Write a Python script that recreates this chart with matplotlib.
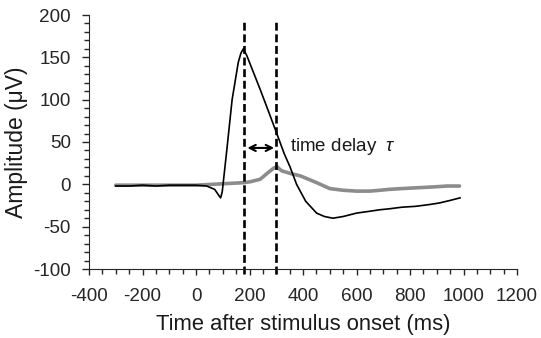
import matplotlib
matplotlib.use("Agg")
import matplotlib.pyplot as plt
from matplotlib.ticker import MultipleLocator

plt.rcParams['font.family'] = ['Liberation Sans', 'DejaVu Sans']
plt.rcParams['axes.unicode_minus'] = False
plt.rcParams['mathtext.fontset'] = 'custom'
plt.rcParams['mathtext.it'] = 'Liberation Sans:italic'
plt.rcParams['mathtext.rm'] = 'Liberation Sans'

# Black trace (fast response)
black_t = [-300, -250, -200, -150, -100, -50, 0, 40, 70, 85, 92, 98, 115, 135, 158, 168, 177,
           190, 210, 240, 270, 302, 330, 351, 376, 410, 451, 480, 512, 550, 600, 645, 688, 720,
           770, 820, 870, 910, 950, 987]
black_v = [-2, -2, -1, -2, -1, -1, -1, -2, -6, -13, -16, -9, 40, 100, 144, 155, 160,
           152, 136, 112, 87, 60, 36, 21, 0, -20, -34, -38, -40, -38, -34, -32, -30, -29,
           -27, -26, -24, -22, -19, -16]
# Gray trace (delayed response)
gray_t = [-300, -200, -100, 0, 60, 120, 180, 202, 240, 270, 290, 302, 320, 351, 390, 451,
          500, 550, 600, 650, 688, 720, 770, 830, 890, 940, 985]
gray_v = [-1, -1, -1, -1, 0, 1, 2, 3, 6, 14, 19, 21, 16, 13, 10, 2,
          -5, -7, -8, -8, -7, -6, -5, -4, -3, -2, -2]

delay_start = 180
delay_end = 300

fig = plt.figure(figsize=(5.41, 3.38), dpi=100)
ax = fig.add_axes([89/541, 1-269/338, (517-89)/541, (269-15)/338])

ax.plot(gray_t, gray_v, color='#8c8c8c', lw=2.6, solid_capstyle='round')
ax.plot(black_t, black_v, color='black', lw=1.2)

for xv in (delay_start, delay_end):
    ax.plot([xv, xv], [-106, 192], color='black', lw=1.9, ls=(0, (3.0, 1.4)), clip_on=False)

ax.annotate('', xy=(delay_start + 12, 43), xytext=(delay_end - 8, 43),
            arrowprops=dict(arrowstyle='<->', color='black', lw=1.5, mutation_scale=11,
                            shrinkA=0, shrinkB=0))
ax.text(351, 45, 'time delay  $\\it{\\tau}$', fontsize=13.5, va='center', ha='left',
        color='#1a1a1a')

ax.set_xlim(-400, 1200)
ax.set_ylim(-100, 200)
ax.xaxis.set_major_locator(MultipleLocator(200))
ax.xaxis.set_minor_locator(MultipleLocator(50))
ax.yaxis.set_major_locator(MultipleLocator(50))
ax.yaxis.set_minor_locator(MultipleLocator(10))
ax.tick_params(axis='x', which='major', length=4.5, width=1, labelsize=13.6, pad=9.5,
               colors='#262626')
ax.tick_params(axis='y', which='major', length=5, width=1, labelsize=13.6, pad=8,
               colors='#262626')
ax.tick_params(axis='both', which='minor', length=3.5, width=1, colors='#262626')
for s in ('top', 'right'):
    ax.spines[s].set_visible(False)
for s in ('left', 'bottom'):
    ax.spines[s].set_color('#262626')

ax.set_xlabel('Time after stimulus onset (ms)', fontsize=15.8, labelpad=6, color='#1a1a1a')
ax.set_ylabel('Amplitude (\u03bcV)', fontsize=16.5, labelpad=3.5, color='#1a1a1a')

fig.savefig('out.png', dpi=100)
